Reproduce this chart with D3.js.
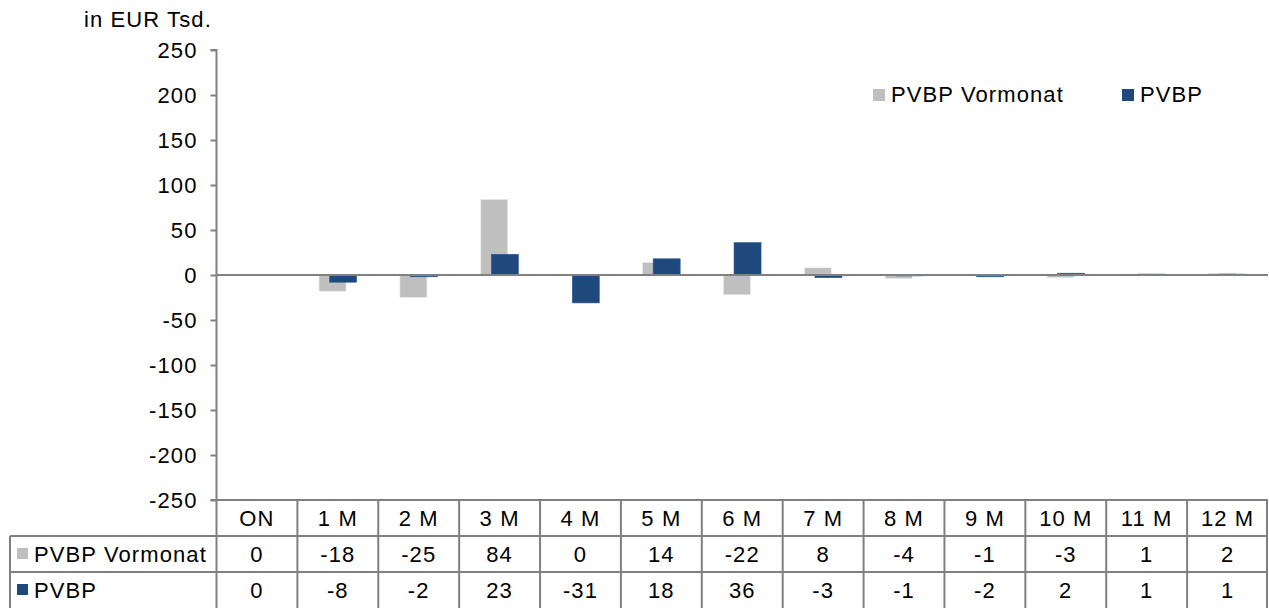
<!DOCTYPE html>
<html>
<head>
<meta charset="utf-8">
<script src="https://d3js.org/d3.v7.min.js"></script>
<style>
  body { margin: 0; background: #fff; }
  text { font-family: "Liberation Sans", Arial, sans-serif; fill: #000; font-size: 22px; letter-spacing: 1.1px; }
</style>
</head>
<body>
<div id="graph"></div>
<script>
  // chart values
  const categories = ['ON', '1 M', '2 M', '3 M', '4 M', '5 M', '6 M', '7 M', '8 M', '9 M', '10 M', '11 M', '12 M'];
  const seriesNames = ['PVBP Vormonat', 'PVBP'];
  const vormonat = [0, -18, -25, 84, 0, 14, -22, 8, -4, -1, -3, 1, 2];
  const pvbp = [0, -8, -2, 23, -31, 18, 36, -3, -1, -2, 2, 1, 1];
  const yTicks = [250, 200, 150, 100, 50, 0, -50, -100, -150, -200, -250];
  const colors = ['#bfbfbf', '#1f497d'];

  const W = 1269, H = 608;
  const plotL = 216.5, plotR = 1268, plotT = 50, plotB = 500;
  const rowH = 36;

  const svg = d3.select('#graph').append('svg')
    .attr('width', W).attr('height', H);

  const x = d3.scaleBand().domain(categories).range([plotL, plotR]);
  const y = d3.scaleLinear().domain([-250, 250]).range([plotB, plotT]);

  // axis title
  svg.append('text').attr('x', 84).attr('y', 27).text('in EUR Tsd.');

  // y axis
  const yAxis = svg.append('g')
    .attr('transform', 'translate(' + plotL + ',0)')
    .call(d3.axisLeft(y).tickValues(yTicks).tickSize(6).tickPadding(13).tickFormat(function (d) { return String(d); }));
  yAxis.selectAll('path, line').attr('stroke', '#808080').attr('stroke-width', 2);
  yAxis.select('.domain').attr('d', 'M-6,' + plotT + 'H0V' + plotB + 'H-6');
  yAxis.selectAll('text').style('font-size', '22px')
    .style('font-family', '"Liberation Sans", Arial, sans-serif').attr('fill', '#000');

  // bars
  const bw = 27, off = 5.3;
  const series = [vormonat, pvbp];
  series.forEach(function (vals, si) {
    svg.append('g').selectAll('rect')
      .data(vals)
      .enter().append('rect')
      .attr('x', function (d, i) { return x(categories[i]) + x.bandwidth() / 2 - bw / 2 + (si === 0 ? -off : off); })
      .attr('y', function (d) { return Math.min(y(d), y(0)); })
      .attr('width', bw)
      .attr('height', function (d) { return Math.abs(y(d) - y(0)); })
      .attr('fill', colors[si])
      .attr('stroke', d3.color(colors[si]).brighter(0.6))
      .attr('stroke-width', 0.6);
  });

  // zero line
  svg.append('line')
    .attr('x1', plotL).attr('x2', plotR)
    .attr('y1', y(0)).attr('y2', y(0))
    .attr('stroke', '#808080').attr('stroke-width', 2);

  // legend
  const legX = [873, 1122];
  seriesNames.forEach(function (n, i) {
    svg.append('rect').attr('x', legX[i]).attr('y', 89)
      .attr('width', 12).attr('height', 12).attr('fill', colors[i]);
    svg.append('text').attr('x', legX[i] + 18).attr('y', 102).text(n);
  });

  // data table
  const tbl = svg.append('g');
  const rows = [plotB, plotB + rowH, plotB + 2 * rowH, H];
  const gridCol = '#808080';
  // horizontal lines
  tbl.append('line').attr('x1', plotL).attr('x2', plotR).attr('y1', rows[0]).attr('y2', rows[0])
    .attr('stroke', gridCol).attr('stroke-width', 2);
  [1, 2].forEach(function (r) {
    tbl.append('line').attr('x1', 10).attr('x2', plotR).attr('y1', rows[r]).attr('y2', rows[r])
      .attr('stroke', gridCol).attr('stroke-width', 2);
  });
  // vertical lines
  tbl.append('line').attr('x1', 10).attr('x2', 10).attr('y1', rows[1]).attr('y2', H)
    .attr('stroke', gridCol).attr('stroke-width', 2);
  categories.concat(['_end']).forEach(function (c, i) {
    const xx = i < categories.length ? x(c) : plotR - 1;
    tbl.append('line').attr('x1', xx).attr('x2', xx).attr('y1', rows[0]).attr('y2', H)
      .attr('stroke', gridCol).attr('stroke-width', 2);
  });
  // header
  tbl.selectAll('text.cat').data(categories).enter().append('text')
    .attr('x', function (d) { return x(d) + x.bandwidth() / 2; })
    .attr('y', rows[0] + 26)
    .attr('text-anchor', 'middle').text(function (d) { return d; });
  // series rows
  series.forEach(function (vals, si) {
    const ry = rows[si + 1];
    tbl.append('rect').attr('x', 17).attr('y', ry + 12).attr('width', 11).attr('height', 11)
      .attr('fill', colors[si]);
    tbl.append('text').attr('x', 34).attr('y', ry + 26).text(seriesNames[si]);
    tbl.append('g').selectAll('text').data(vals).enter().append('text')
      .attr('x', function (d, i) { return x(categories[i]) + x.bandwidth() / 2; })
      .attr('y', ry + 26)
      .attr('text-anchor', 'middle').text(function (d) { return d; });
  });
</script>
</body>
</html>
